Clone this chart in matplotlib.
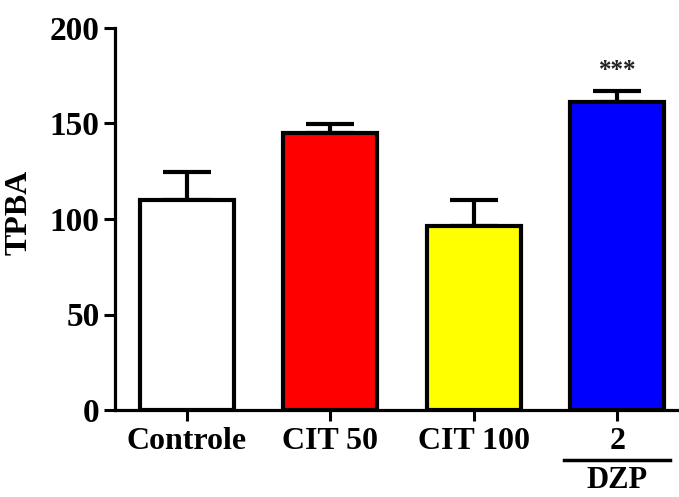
import matplotlib
matplotlib.use("Agg")
import matplotlib.pyplot as plt

categories = ["Controle", "CIT 50", "CIT 100", "2"]
means = [110, 145, 96.5, 161]
sem = [14.7, 4.8, 13.2, 5.9]
colors = ["#FFFFFF", "#FF0000", "#FFFF00", "#0000FF"]
yticks = [0, 50, 100, 150, 200]
ylabel = "TPBA"
signif = "***"
group_label = "DZP"

plt.rcParams['font.family'] = ['Liberation Serif', 'DejaVu Serif']
plt.rcParams['font.weight'] = 'bold'

fig = plt.figure(figsize=(6.79, 4.97), dpi=100)
ax = fig.add_axes([115/679, 87/497, 1 - 115/679, 382/497])

x = list(range(len(categories)))
ax.bar(x, means, width=0.655, color=colors, edgecolor='black', linewidth=3,
       zorder=2)
ax.errorbar(x, means, yerr=[[0]*len(sem), sem], fmt='none', ecolor='black',
            elinewidth=3, capsize=17, capthick=3, zorder=1)

ax.set_xlim(-0.5, 3.43)
ax.set_ylim(0, 200)
ax.set_yticks(yticks)
ax.set_yticklabels([str(t) for t in yticks], fontsize=24, fontweight='bold')
ax.set_xticks(x)
ax.set_xticklabels(categories, fontsize=23, fontweight='bold')

for s in ['top', 'right']:
    ax.spines[s].set_visible(False)
for s in ['left', 'bottom']:
    ax.spines[s].set_linewidth(2.3)
ax.tick_params(axis='both', length=8, width=2.2, color='black')
ax.tick_params(axis='y', pad=3)
ax.tick_params(axis='x', pad=4)

ax.set_ylabel(ylabel, fontsize=23, fontweight='bold')
ax.yaxis.set_label_coords(-0.145, 0.518)

ax.text(x[3], means[3] + sem[3] + 5, signif, ha='center', va='bottom',
        fontsize=18, color='#222222')

trans = ax.get_xaxis_transform()
ax.plot([x[3] - 0.37, x[3] + 0.37], [-0.131, -0.131], color='black', lw=2.5,
        transform=trans, clip_on=False)
ax.text(x[3], -0.205, group_label, ha='center', va='baseline', fontsize=22,
        fontweight='bold', transform=trans)

fig.savefig("out.png", dpi=100)
